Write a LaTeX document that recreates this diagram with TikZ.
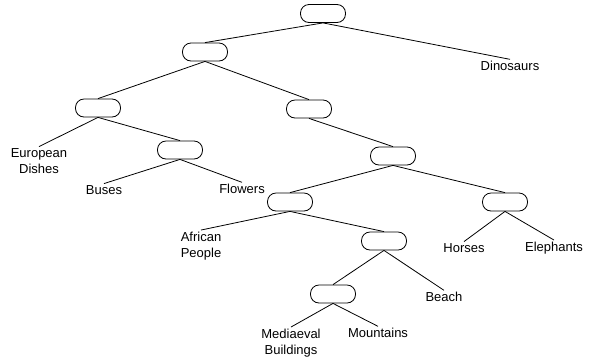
\documentclass[tikz,border=0pt]{standalone}
\usepackage{fontspec}
\setmainfont{Liberation Sans}
\usetikzlibrary{calc}

\begin{document}
\begin{tikzpicture}[x=1pt, y=-1pt, line width=0.8pt,
    cluster/.style={draw, rectangle, rounded corners=8.5pt, minimum width=45pt, minimum height=18pt, inner sep=0pt},
    leaf/.style={align=center, inner sep=1.5pt, font=\fontsize{13}{16}\selectfont}]
  \useasboundingbox (0, 0) rectangle (594, 360);
  \node[cluster] (n0) at (323, 13.5) {};
  \node[cluster] (n1) at (205, 52) {};
  \node[cluster] (n2) at (98, 108) {};
  \node[cluster] (n3) at (309, 109) {};
  \node[cluster] (n4) at (180, 150) {};
  \node[cluster] (n5) at (393, 156) {};
  \node[cluster] (n6) at (290, 202) {};
  \node[cluster] (n7) at (505, 202) {};
  \node[cluster] (n8) at (384, 241) {};
  \node[cluster] (n9) at (333, 294) {};
  \node[leaf] (dino) at (510, 66) {Dinosaurs};
  \node[leaf] (euro) at (39, 161) {European\\Dishes};
  \node[leaf] (buses) at (104, 190) {Buses};
  \node[leaf] (flowers) at (242, 189) {Flowers};
  \node[leaf] (africa) at (201, 246) {African\\People};
  \node[leaf] (horses) at (464, 248) {Horses};
  \node[leaf] (eleph) at (554, 248) {Elephants};
  \node[leaf] (beach) at (444, 297) {Beach};
  \node[leaf] (medi) at (291, 343) {Mediaeval\\Buildings};
  \node[leaf] (mount) at (378, 333) {Mountains};
  \draw (n0.south) -- (n1.north) (n0.south) -- (dino.north);
  \draw (n1.south) -- (n2.north) (n1.south) -- (n3.north);
  \draw (n2.south) -- (euro.north) (n2.south) -- (n4.north);
  \draw (n4.south) -- (buses.north) (n4.south) -- (flowers.north);
  \draw (n3.south) -- (n5.north);
  \draw (n5.south) -- (n6.north) (n5.south) -- (n7.north);
  \draw (n6.south) -- (africa.north) (n6.south) -- (n8.north);
  \draw (n7.south) -- (horses.north) (n7.south) -- (eleph.north);
  \draw (n8.south) -- (n9.north) (n8.south) -- (beach.north);
  \draw (n9.south) -- (medi.north) (n9.south) -- (mount.north);
\end{tikzpicture}
\end{document}
